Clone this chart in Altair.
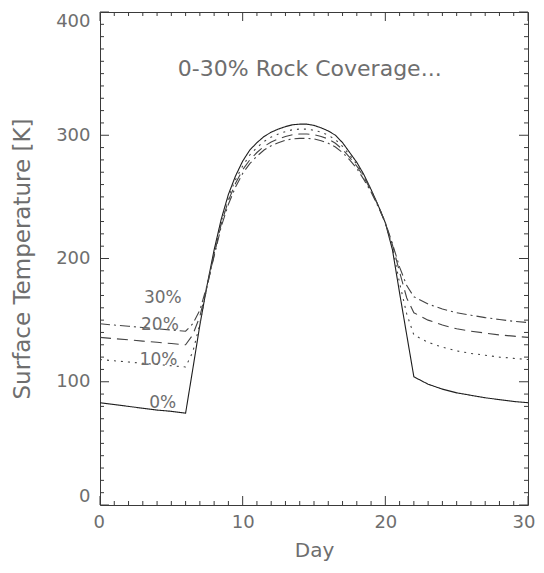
import altair as alt
import pandas as pd

# ---- data ----
days = [0, 1, 2, 3, 4, 5, 6, 6.5, 7, 7.5, 8, 8.5, 9, 9.5, 10, 10.5, 11, 11.5, 12, 12.5,
        13, 13.5, 14, 14.5, 15, 15.5, 16, 16.5, 17, 17.5, 18, 18.5, 19, 19.5, 20, 20.5,
        21, 21.5, 22, 23, 24, 25, 26, 27, 28, 29, 30]

t0 = [83, 81.5, 80, 78.5, 77, 76, 74.5, 110, 146, 178, 207, 232, 252, 267, 279, 288, 294, 299,
      302.5, 305, 307, 308.5, 309, 309, 308, 306, 303.5, 300, 294, 286, 278, 268, 256, 243, 229,
      207, 172, 138, 104, 98, 94, 91, 89, 87, 85.5, 84, 83]

t10 = [118, 117, 116, 115, 114, 113, 112, 124, 147, 177, 204, 230, 250, 264, 275, 284, 290, 295,
       298.5, 301, 303, 304.5, 305, 305, 304, 302.5, 300, 296.5, 291, 284, 276.5, 267, 255.5, 243,
       229, 209, 180, 155, 138, 132, 128, 125, 123, 121.5, 120, 119, 118]

t20 = [136, 135, 134, 133, 132, 131, 130, 138, 153, 177, 203, 228, 247, 261, 272, 280, 286, 291,
       294.5, 297, 299, 300.5, 301, 301, 300.5, 299, 297, 293.5, 288.5, 282, 275, 266, 255, 243,
       229, 211, 189, 168, 156, 150, 146, 143, 141, 139.5, 138, 137, 136]

t30 = [147, 146, 145, 144, 143, 142, 141, 147, 158, 178, 202, 226, 244, 258, 269, 277, 283, 288,
       291.5, 294, 296, 297, 297.5, 297.5, 297, 295.5, 293.5, 290.5, 286, 280, 273, 264, 254, 242,
       229, 212, 193, 178, 169, 163, 159, 156, 154, 152, 150.5, 149, 148]

covers = ["0%", "10%", "20%", "30%"]

label_text = ["30%", "20%", "10%", "0%"]
label_day = [4.4, 4.2, 4.1, 4.4]
label_temp = [168, 146, 117.5, 82.5]

title_text = ["0-30% Rock Coverage..."]
title_day = [14.7]
title_temp = [354]

x_major = [0, 10, 20, 30]
x_minor = [d for d in range(1, 30) if d % 10 != 0]
y_major = [0, 100, 200, 300, 400]
y_minor = [v for v in range(10, 400, 10) if v % 100 != 0]

X_DOMAIN = [0, 30]
Y_DOMAIN = [0, 400]

# ---- build tables ----
rows = []
for name, series in zip(covers, [t0, t10, t20, t30]):
    for d, t in zip(days, series):
        rows.append({"day": d, "temp": t, "cover": name})
df = pd.DataFrame(rows)
labels = pd.DataFrame({"text": label_text, "day": label_day, "temp": label_temp})
ttl = pd.DataFrame({"text": title_text, "day": title_day, "temp": title_temp})

W, H = 428, 493
FONT = "DejaVu Sans"
TXT = "#6e6e6e"
AX = "#3a3a3a"
MINOR, MAJOR = 4, 9  # tick lengths in px

# inward tick segments on all four sides, as two-point lines (px -> data units)
dx = (X_DOMAIN[1] - X_DOMAIN[0]) / W
dy = (Y_DOMAIN[1] - Y_DOMAIN[0]) / H
trows = []
tid = 0


def seg(d1, t1, d2, t2):
    global tid
    trows.append({"tid": tid, "k": 0, "day": d1, "temp": t1})
    trows.append({"tid": tid, "k": 1, "day": d2, "temp": t2})
    tid += 1


for vals, L in [(x_minor, MINOR), (x_major, MAJOR)]:
    for v in vals:
        seg(v, Y_DOMAIN[0], v, Y_DOMAIN[0] + L * dy)
        seg(v, Y_DOMAIN[1], v, Y_DOMAIN[1] - L * dy)
for vals, L in [(y_minor, MINOR), (y_major, MAJOR)]:
    for v in vals:
        seg(X_DOMAIN[0], v, X_DOMAIN[0] + L * dx, v)
        seg(X_DOMAIN[1], v, X_DOMAIN[1] - L * dx, v)
tdf = pd.DataFrame(trows)

xscale = alt.Scale(domain=X_DOMAIN, nice=False, zero=False)
yscale = alt.Scale(domain=Y_DOMAIN, nice=False, zero=False)
common = dict(ticks=False, domain=False, grid=False, labelFont=FONT, titleFont=FONT,
              labelColor=TXT, titleColor=TXT,
              titleFontWeight="normal", labelFontWeight="normal")
xaxis = alt.Axis(values=x_major, title="Day", labelPadding=8, titlePadding=9,
                 labelFontSize=18, titleFontSize=20, labelFlush=True, labelFlushOffset=7,
                 **common)
yaxis = alt.Axis(values=y_major, title="Surface Temperature [K]", labelPadding=10,
                 titlePadding=21, labelFontSize=18, titleFontSize=23, labelFlush=True,
                 **common)


def X(f):
    return alt.X(f, scale=xscale, axis=xaxis)


def Y(f):
    return alt.Y(f, scale=yscale, axis=yaxis)


ticks = alt.Chart(tdf).mark_line(strokeWidth=1).encode(
    x=X("day:Q"), y=Y("temp:Q"),
    detail="tid:N", order="k:Q",
    color=alt.value(AX),
)

lines = alt.Chart(df).mark_line(strokeWidth=1.1).encode(
    x=X("day:Q"),
    y=Y("temp:Q"),
    strokeDash=alt.StrokeDash("cover:N", scale=alt.Scale(
        domain=covers, range=[[1, 0], [2, 5], [11, 6], [10, 4, 2, 4]]), legend=None),
    color=alt.Color("cover:N", scale=alt.Scale(
        domain=covers, range=["#1e1e1e", "#444444", "#444444", "#444444"]), legend=None),
    order=alt.Order("day:Q"),
)

lab = alt.Chart(labels).mark_text(font=FONT, fontSize=17, color=TXT).encode(
    x=X("day:Q"), y=Y("temp:Q"), text="text:N",
)

tt = alt.Chart(ttl).mark_text(font=FONT, fontSize=22, color=TXT).encode(
    x=X("day:Q"), y=Y("temp:Q"), text="text:N",
)

chart = alt.layer(lines, lab, tt, ticks).properties(
    width=W, height=H,
    view=alt.ViewBackground(stroke=AX, strokeWidth=1),
    autosize=alt.AutoSizeParams(type="none"),
    padding={"left": 92, "top": 4, "right": 8, "bottom": 60},
).configure(background="white")

chart.save("out.html", embed_options={"renderer": "svg", "actions": False})
